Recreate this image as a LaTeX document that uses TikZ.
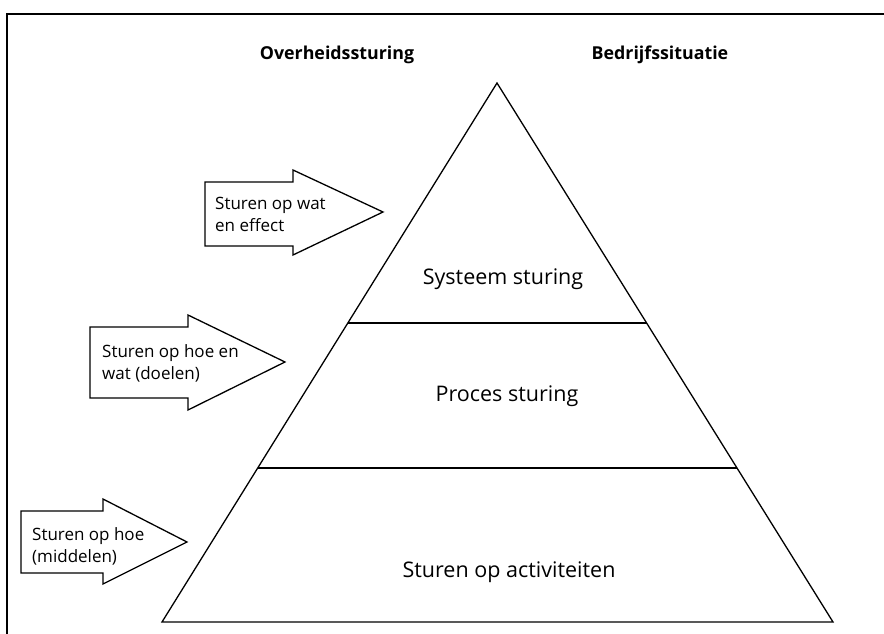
\documentclass[tikz,border=0pt]{standalone}
\usepackage{fontspec}
\setmainfont{Open Sans}
\usetikzlibrary{calc}
\begin{document}
\begin{tikzpicture}[x=1pt,y=-1pt,
  outline/.style={line width=1.3pt, line join=miter},
  framerule/.style={line width=1.8pt},
  arrowtext/.style={anchor=west, inner sep=0pt, align=left,
    font=\fontsize{17}{22}\selectfont},
  levellabel/.style={inner sep=0pt, font=\fontsize{21.5}{26}\selectfont},
  header/.style={inner sep=0pt, font=\fontsize{17.8}{21}\selectfont\bfseries}]
\useasboundingbox (0,0) rectangle (884,634);

% open frame (left and top rules)
\draw[framerule] (7,634) -- (7,14) -- (884,14);

% column headers
\node[header] (hgov) at (337,55) {Overheidssturing};
\node[header] (hbiz) at (660,55) {Bedrijfssituatie};

% pyramid
\coordinate (apex) at (497,83);
\coordinate (bl) at (162,622);
\coordinate (br) at (833,622);
\coordinate (ul) at ($(apex)!0.4453!(bl)$);
\coordinate (ur) at ($(apex)!0.4453!(br)$);
\coordinate (ll) at ($(apex)!0.7143!(bl)$);
\coordinate (lr) at ($(apex)!0.7143!(br)$);
\draw[outline] (apex) -- (bl) -- (br) -- cycle;
\draw[outline] (ul) -- (ur);
\draw[outline] (ll) -- (lr);

\node[levellabel] (lsys) at (503,279) {Systeem sturing};
\node[levellabel] (lproc) at (507,396) {Proces sturing};
\node[levellabel] (lact) at (509,572) {Sturen op activiteiten};

% block arrows pointing at the pyramid
\draw[outline] (205,182) -- (293,182) -- (293,170) -- (383,212)
  -- (293,255) -- (293,246) -- (205,246) -- cycle;
\node[arrowtext] (a1) at (215,214) {Sturen op wat\\en effect};

\draw[outline] (90,327) -- (188,327) -- (188,315) -- (285,362)
  -- (188,410) -- (188,398) -- (90,398) -- cycle;
\node[arrowtext] (a2) at (102,363) {Sturen op hoe en\\wat (doelen)};

\draw[outline] (21,511) -- (103,511) -- (103,499) -- (187,542)
  -- (103,584) -- (103,573) -- (21,573) -- cycle;
\node[arrowtext] (a3) at (32,546) {Sturen op hoe\\(middelen)};
\end{tikzpicture}
\end{document}
